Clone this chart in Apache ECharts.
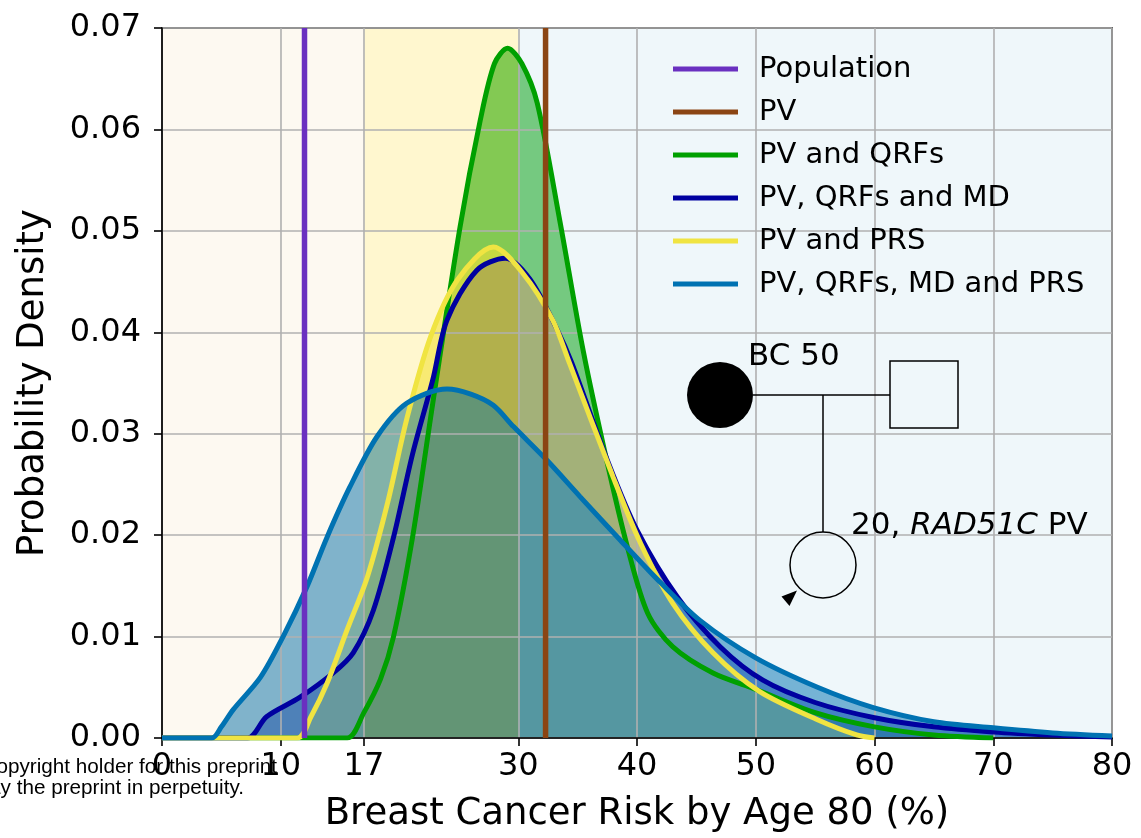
<!DOCTYPE html>
<html>
<head>
<meta charset="utf-8">
<script src="https://cdn.jsdelivr.net/npm/echarts@6/dist/echarts.min.js"></script>
<style>
  html, body { margin: 0; padding: 0; background: #fff; }
  #chart { width: 1141px; height: 838px; }
</style>
</head>
<body>
<div id="chart"></div>
<script>
// x axis ticks and shaded risk bands
const xTicks = [0, 10, 17, 30, 40, 50, 60, 70, 80];
const bandEdges = [0, 17, 30, 80];
const bandColors = ['rgba(245,222,179,0.18)', 'rgba(255,215,0,0.19)', 'rgba(173,216,230,0.2)'];

// vertical reference risks
const populationRisk = 12;
const pvRisk = 32.3;

// PV and QRFs
const qrfX = [0, 11.5, 15.6, 17, 18.4, 19.5, 21.1, 22.8, 25.1, 26.8, 28, 29.1, 30.3, 31.6, 33.5, 35.5, 37.5, 39.2, 40.9, 43, 46.4, 50, 55, 60, 65, 70];
const qrfY = [0, 0, 0, 0.0025, 0.0058, 0.0100, 0.0198, 0.0330, 0.0504, 0.0609, 0.0665, 0.0680, 0.0665, 0.0626, 0.0510, 0.0380, 0.0271, 0.0188, 0.0123, 0.0090, 0.0064, 0.0048, 0.0025, 0.0011, 0.0003, 0];

// PV, QRFs and MD
const mdX = [0, 7.2, 8.8, 11.6, 14.4, 16.1, 17.8, 19.5, 21.1, 22.8, 24.0, 26.5, 28.9, 31.0, 33.3, 34.5, 37.6, 40.0, 43.4, 47.0, 50.6, 55, 60, 65, 70, 75, 80];
const mdY = [0, 0, 0.0021, 0.0040, 0.0064, 0.0084, 0.0126, 0.0198, 0.0280, 0.0353, 0.0412, 0.0461, 0.0473, 0.0452, 0.0402, 0.0370, 0.0271, 0.0205, 0.0139, 0.0090, 0.0057, 0.0035, 0.0020, 0.0011, 0.0006, 0.0003, 0.0001];

// PV and PRS
const prsX = [0, 11.4, 12.5, 13.9, 15.6, 17.3, 19.0, 20.6, 22.6, 24.9, 27.9, 30.4, 32.9, 34.3, 38.0, 40.3, 43.0, 46.4, 50.3, 55.2, 58.5, 60];
const prsY = [0, 0, 0.0020, 0.0054, 0.0107, 0.0159, 0.0232, 0.0314, 0.0395, 0.0452, 0.0484, 0.0458, 0.0412, 0.0370, 0.0257, 0.0192, 0.0133, 0.0084, 0.0046, 0.0018, 0.0003, 0];

// PV, QRFs, MD and PRS
const allX = [0, 4.2, 5.0, 6.0, 8.3, 10.2, 12.2, 13.9, 15.8, 18.1, 20.6, 24.0, 26.0, 27.9, 29.6, 32.4, 35.2, 38.6, 42.0, 45.3, 50.0, 55.2, 59.9, 65, 70, 75, 80];
const allY = [0, 0, 0.0011, 0.0028, 0.0060, 0.0100, 0.0149, 0.0198, 0.0247, 0.0297, 0.0330, 0.0344, 0.0339, 0.0328, 0.0307, 0.0274, 0.0238, 0.0195, 0.0153, 0.0116, 0.0079, 0.0050, 0.0030, 0.0016, 0.0010, 0.0005, 0.0002];

const names = ['Population', 'PV', 'PV and QRFs', 'PV, QRFs and MD', 'PV and PRS', 'PV, QRFs, MD and PRS'];
const colors = ['#6a30c0', '#8b4513', '#00a000', '#0000a0', '#f0e442', '#0072b2'];

const FONT = 'DejaVu Sans';
const SMOOTH = 0.3;
const chart = echarts.init(document.getElementById('chart'));

function pairs(xs, ys) {
  return xs.map((x, i) => [x, ys[i]]);
}

// 填充 (在色带下面)
function fill(name, xs, ys, color) {
  return {
    type: 'line',
    name: name + ' fill',
    data: pairs(xs, ys),
    smooth: SMOOTH,
    symbol: 'none',
    z: -10,
    silent: true,
    lineStyle: { width: 0, opacity: 0 },
    areaStyle: { color: color, opacity: 0.6 }
  };
}

// 曲线
function curve(name, xs, ys, color) {
  return {
    type: 'line',
    name: name,
    data: pairs(xs, ys),
    smooth: SMOOTH,
    symbol: 'none',
    lineStyle: { color: color, width: 5 },
    itemStyle: { color: color }
  };
}

// 竖线
function vline(name, x, color) {
  return {
    type: 'line',
    name: name,
    data: [[x, 0], [x, 0.07]],
    symbol: 'none',
    lineStyle: { color: color, width: 5.5 },
    itemStyle: { color: color }
  };
}

const bands = [];
for (let i = 0; i < bandColors.length; i++) {
  bands.push([{ xAxis: bandEdges[i], itemStyle: { color: bandColors[i] } }, { xAxis: bandEdges[i + 1] }]);
}

const option = {
  animation: false,
  grid: {
    left: 162, right: 29, top: 28, bottom: 100,
    show: true, borderColor: '#000', borderWidth: 1.6, backgroundColor: 'transparent'
  },
  legend: {
    data: names,
    orient: 'vertical',
    left: 673,
    top: 54,
    padding: 0,
    icon: 'rect',
    itemWidth: 65,
    itemHeight: 5,
    itemGap: 13,
    textStyle: { fontFamily: FONT, fontSize: 29, color: '#000', lineHeight: 30, padding: [0, 0, 0, 16] }
  },
  xAxis: {
    type: 'value',
    min: 0,
    max: 80,
    name: 'Breast Cancer Risk by Age 80 (%)',
    nameLocation: 'middle',
    nameGap: 58,
    nameTextStyle: { fontFamily: FONT, fontSize: 37, color: '#000' },
    axisLine: { lineStyle: { color: '#000', width: 1.6 } },
    axisTick: { show: true, customValues: xTicks, length: 8, lineStyle: { color: '#000', width: 1.6 } },
    axisLabel: { customValues: xTicks, fontFamily: FONT, fontSize: 32, color: '#000', margin: 13 },
    splitLine: { show: true, lineStyle: { color: '#b0b0b0', width: 1.6 } }
  },
  yAxis: {
    type: 'value',
    min: 0,
    max: 0.07,
    interval: 0.01,
    name: 'Probability Density',
    nameLocation: 'middle',
    nameGap: 110,
    nameTextStyle: { fontFamily: FONT, fontSize: 37, color: '#000' },
    axisLine: { show: true, lineStyle: { color: '#000', width: 1.6 } },
    axisTick: { show: true, length: 8, lineStyle: { color: '#000', width: 1.6 } },
    axisLabel: { fontFamily: FONT, fontSize: 32, color: '#000', margin: 21, formatter: v => v.toFixed(2) },
    splitLine: { show: true, lineStyle: { color: '#b0b0b0', width: 1.6 } }
  },
  series: [
    fill(names[2], qrfX, qrfY, colors[2]),
    fill(names[3], mdX, mdY, colors[3]),
    fill(names[4], prsX, prsY, colors[4]),
    fill(names[5], allX, allY, colors[5]),
    {
      type: 'line',
      name: 'bands',
      data: [],
      z: -1,
      silent: true,
      markArea: { silent: true, z: -5, data: bands }
    },
    curve(names[2], qrfX, qrfY, colors[2]),
    curve(names[3], mdX, mdY, colors[3]),
    curve(names[4], prsX, prsY, colors[4]),
    curve(names[5], allX, allY, colors[5]),
    vline(names[0], populationRisk, colors[0]),
    vline(names[1], pvRisk, colors[1])
  ],
  graphic: [
    // pedigree
    { type: 'line', shape: { x1: 753, y1: 395, x2: 890, y2: 395 }, style: { stroke: '#000', lineWidth: 1.5 }, z: 10 },
    { type: 'line', shape: { x1: 823, y1: 395, x2: 823, y2: 532 }, style: { stroke: '#000', lineWidth: 1.5 }, z: 10 },
    { type: 'circle', shape: { cx: 720, cy: 395, r: 33 }, style: { fill: '#000' }, z: 10 },
    { type: 'rect', shape: { x: 890, y: 361, width: 68, height: 67 }, style: { fill: 'none', stroke: '#000', lineWidth: 1.5 }, z: 10 },
    { type: 'circle', shape: { cx: 823, cy: 565, r: 33 }, style: { fill: 'none', stroke: '#000', lineWidth: 1.5 }, z: 10 },
    { type: 'polygon', shape: { points: [[781.5, 596.5], [797, 590.5], [789.5, 606]] }, style: { fill: '#000' }, z: 10 },
    { type: 'text', x: 748, y: 357, style: { text: 'BC 50', font: '31px "DejaVu Sans"', fill: '#000', verticalAlign: 'middle' }, z: 10 },
    {
      type: 'text', x: 851, y: 526, z: 10,
      style: {
        text: '{n|20, }{i|RAD51C}{n| PV}',
        verticalAlign: 'middle',
        rich: {
          n: { fontFamily: FONT, fontSize: 31, fill: '#000' },
          i: { fontFamily: FONT, fontSize: 31, fontStyle: 'italic', fill: '#000' }
        }
      }
    },
    // preprint watermark
    { type: 'text', x: 277, y: 767, style: { text: 'The copyright holder for this preprint', font: '20.7px "Liberation Sans"', fill: '#000', align: 'right', verticalAlign: 'middle' }, z: 20 },
    { type: 'text', x: 244, y: 788, style: { text: 'who has granted medRxiv a license to display the preprint in perpetuity.', font: '20.7px "Liberation Sans"', fill: '#000', align: 'right', verticalAlign: 'middle' }, z: 20 }
  ]
};

chart.setOption(option);
</script>
</body>
</html>
